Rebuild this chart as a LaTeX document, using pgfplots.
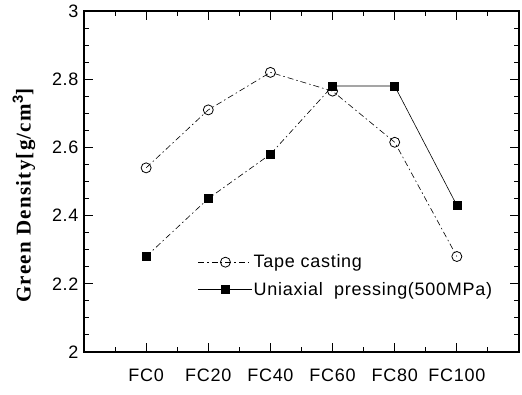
\documentclass[border=0pt]{standalone}
\usepackage{pgfplots}
\pgfplotsset{compat=1.18}
\usepackage{fontspec}
\setmainfont{Liberation Sans}[LetterSpace=4]
\newfontfamily\serifbold{Liberation Serif}[LetterSpace=6]
\begin{document}
\begin{tikzpicture}
\begin{axis}[
  at={(84pt,43pt)}, anchor=south west,
  width=435pt, height=341pt, scale only axis,
  xmin=0, xmax=7, ymin=2, ymax=3,
  xtick={1,2,3,4,5,6},
  xticklabels={FC0,FC20,FC40,FC60,FC80,FC100},
  ytick={2,2.2,2.4,2.6,2.8,3},
  yticklabels={2,2.2,2.4,2.6,2.8,3},
  major tick length=0pt,
  axis line style={line width=1.3pt},
  tick label style={font=\fontsize{18}{20}\selectfont},
  xticklabel style={yshift=-13pt},
  yticklabel style={xshift=-2pt},
  ylabel={\serifbold\bfseries Green Density[g/cm$^{\mathbf{3}}$]},
  ylabel style={font=\fontsize{21}{23}\selectfont, yshift=10pt, xshift=-14pt},
  legend style={at={(0.255,0.297)}, anchor=north west, draw=none, fill=none,
    font=\fontsize{18}{22}\selectfont, row sep=9pt,
    nodes={inner xsep=1pt}},
  legend cell align=left,
  legend image code/.code={\draw[mark repeat=2,mark phase=2] plot coordinates {(0pt,0pt)(27pt,0pt)(54pt,0pt)};},
]
\addplot[black, line width=0.6pt, dash pattern=on 6pt off 3pt on 1.5pt off 3pt,
  mark=o, mark size=5pt, mark options={solid, fill=white, line width=0.8pt}]
  coordinates {(1,2.54) (2,2.71) (3,2.82) (4,2.765) (5,2.615) (6,2.28)};
\addlegendentry{Tape casting}
\addplot[black, line width=0.6pt, dash pattern=on 6pt off 3pt on 1.5pt off 3pt,
  mark=square*, mark size=4pt, mark options={solid}, forget plot]
  coordinates {(1,2.28) (2,2.45) (3,2.58) (4,2.78)};
\addplot[black, line width=0.6pt,
  mark=square*, mark size=4pt, mark options={solid}]
  coordinates {(4,2.78) (5,2.78) (6,2.43)};
\addlegendentry{Uniaxial\ \ pressing(500MPa)}
\end{axis}
\begin{axis}[
  at={(84pt,43pt)}, anchor=south west,
  width=435pt, height=341pt, scale only axis,
  xmin=0, xmax=7, ymin=2, ymax=3,
  xtick={1,2,3,4,5,6},
  xticklabels={},
  minor xtick={0.5,1.5,2.5,3.5,4.5,5.5,6.5},
  ytick={2,2.2,2.4,2.6,2.8,3},
  yticklabels={},
  minor ytick={2.05,2.1,2.15,2.25,2.3,2.35,2.45,2.5,2.55,2.65,2.7,2.75,2.85,2.9,2.95},
  major tick length=9pt, minor tick length=5pt,
  tick style={line width=0.9pt, black},
  axis line style={line width=1.3pt},
]
\end{axis}
\path (0,0) rectangle (522pt,395pt);
\end{tikzpicture}
\end{document}
